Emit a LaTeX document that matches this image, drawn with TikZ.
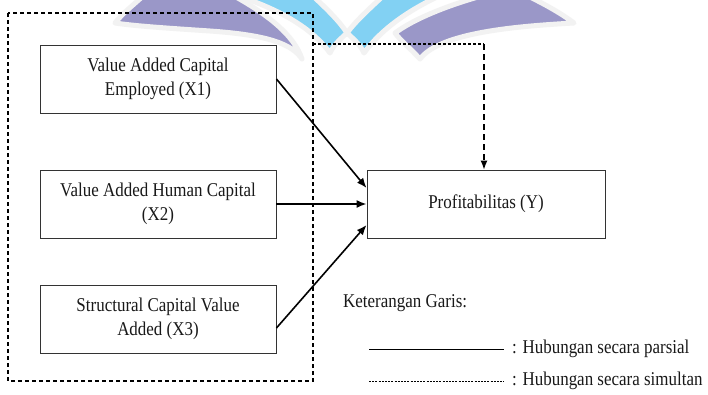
\documentclass[tikz,border=0pt]{standalone}
\usepackage{fontspec}
\setmainfont[FakeStretch=0.87]{Liberation Serif}
\usetikzlibrary{arrows.meta,calc}
\definecolor{wmpurple}{HTML}{9A97C8}
\definecolor{wmblue}{HTML}{82D1F3}
\definecolor{boxline}{HTML}{333333}
\begin{document}
\begin{tikzpicture}[x=1pt,y=-1pt,
  varbox/.style={draw=boxline,line width=0.9pt,minimum width=236pt,minimum height=68pt,
    align=center,inner sep=0pt,font=\fontsize{19.5}{24.5}\selectfont,text=black!90},
  lbl/.style={anchor=west,inner sep=0pt,font=\fontsize{19.5}{22}\selectfont,text=black!90},
  parsial/.style={line width=1.6pt,-{Latex[length=10pt,width=8pt]}},
  finedash/.style={line width=1.2pt,dash pattern=on 3pt off 2pt},
  longdash/.style={line width=1.2pt,dash pattern=on 6pt off 4pt},
  wm/.style={draw=black!5,line width=5pt,line join=round}]
\useasboundingbox (0,0) rectangle (708,394);
\fill[white] (0,0) rectangle (708,394);
% watermark
\begin{scope}
\clip (0,0) rectangle (708,394);
\filldraw[wm,fill=wmpurple] (115,23) .. controls (122,14) and (132,6) .. (142,-3) -- (236,-3)
  .. controls (268,15) and (294,35) .. (302,59)
  .. controls (292,44) and (268,35) .. (210,31) .. controls (165,28) and (135,26) .. (115,23) -- cycle;
\filldraw[wm,fill=wmblue] (241,-3) -- (314,-3) .. controls (328,10) and (340,22) .. (347,33)
  .. controls (339,40) and (333,46) .. (330,53) .. controls (312,28) and (280,10) .. (241,-3) -- cycle;
\filldraw[wm,fill=wmblue] (437,-3) -- (382,-3) .. controls (368,10) and (355,22) .. (347,33)
  .. controls (355,40) and (361,46) .. (364,53) .. controls (382,28) and (410,10) .. (437,-3) -- cycle;
\filldraw[wm,fill=wmpurple] (478,-3) -- (530,-3) .. controls (548,6) and (562,14) .. (574,23)
  .. controls (520,26) and (440,32) .. (420,59)
  .. controls (410,48) and (400,40) .. (395,33) .. controls (415,18) and (450,5) .. (478,-3) -- cycle;
\end{scope}
% outer dashed frame
\draw[line width=1.2pt,dash pattern=on 4pt off 3pt] (8,13) rectangle (313,381);
% variable boxes
\node[varbox] (x1) at (158,79) {Value Added Capital\\Employed (X1)};
\node[varbox] (x2) at (158,204) {Value Added Human Capital\\(X2)};
\node[varbox] (x3) at (158,319) {Structural Capital Value\\Added (X3)};
\node[varbox,minimum width=238pt] (y) at (486,204) {Profitabilitas (Y)};
% partial arrows
\draw[parsial] (x1.east) -- ([yshift=16pt]y.west);
\draw[parsial] (x2.east) -- (y.west);
\draw[parsial] ([yshift=-9pt]x3.east) -- ([yshift=-21pt]y.west);
% simultaneous arrow
\coordinate (s) at (313,44);
\coordinate (c) at (484,44);
\draw[finedash] (s) -- (c);
\draw[longdash,-{Latex[length=9pt,width=7pt]}] (c) -- (c |- y.north);
% legend
\node[lbl] (ket) at (343,303) {Keterangan Garis:};
\coordinate (la) at (369,349);
\coordinate (lb) at (504,349);
\coordinate (lc) at (369,381);
\coordinate (ld) at (504,381);
\draw[line width=0.9pt] (la) -- (lb);
\node[lbl] (lp) at (512,349) {: Hubungan secara parsial};
\draw[line width=0.8pt,dash pattern=on 2pt off 1.2pt] (lc) -- (ld);
\node[lbl] (ls) at (512,381) {: Hubungan secara simultan};
\end{tikzpicture}
\end{document}
